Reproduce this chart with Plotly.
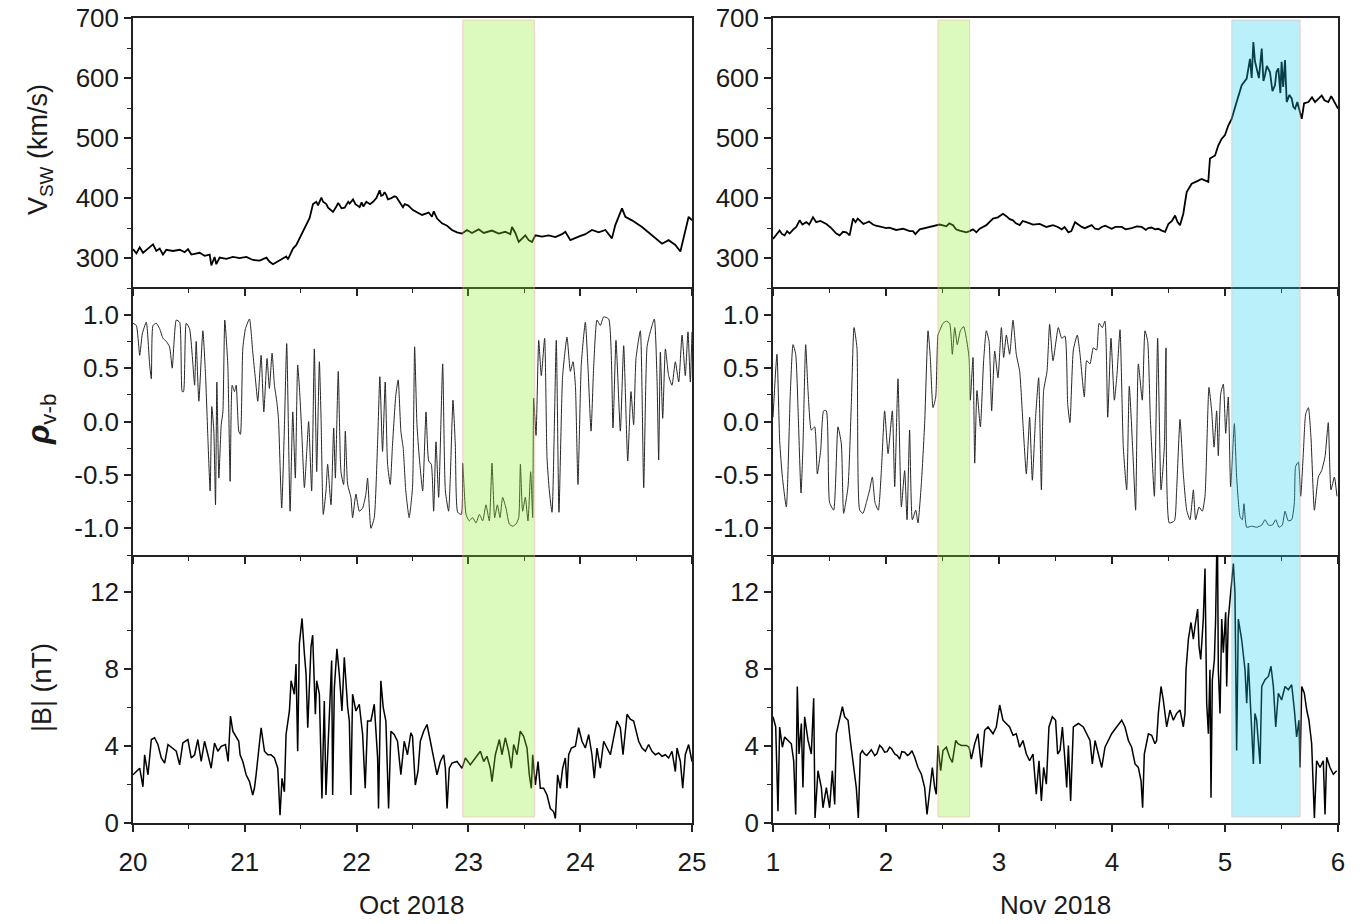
import plotly.graph_objects as go

# ---------------- data ----------------
oct_v = [(20.000,315),(20.030,308),(20.060,318),(20.090,309),(20.134,316),(20.179,323),(20.209,312),(20.239,316),
 (20.268,306),(20.298,314),(20.358,312),(20.417,314),(20.462,310),(20.492,315),(20.522,306),(20.596,309),
 (20.641,304),(20.686,306),(20.701,288),(20.730,302),(20.745,290),(20.775,301),(20.835,299),(20.894,302),
 (20.954,300),(21.014,302),(21.073,297),(21.133,296),(21.193,301),(21.222,294),(21.252,290),(21.312,296),
 (21.371,303),(21.386,298),(21.431,316),(21.461,322),(21.491,333),(21.521,345),(21.550,356),(21.580,367),
 (21.610,390),(21.640,394),(21.655,388),(21.685,401),(21.700,394),(21.729,390),(21.745,384),(21.759,382),
 (21.789,377),(21.819,386),(21.835,392),(21.849,388),(21.865,383),(21.893,384),(21.925,394),(21.938,391),
 (21.968,398),(21.990,390),(22.027,385),(22.045,393),(22.060,386),(22.087,394),(22.120,390),(22.147,394),
 (22.177,400),(22.206,413),(22.220,404),(22.236,405),(22.250,410),(22.266,405),(22.280,398),(22.311,400),
 (22.340,403),(22.355,402),(22.385,394),(22.415,385),(22.430,390),(22.460,388),(22.504,380),(22.585,372),
 (22.645,376),(22.674,369),(22.690,378),(22.720,366),(22.764,358),(22.809,354),(22.853,347),(22.898,343),
 (22.943,341),(22.987,347),(23.032,342),(23.092,348),(23.137,342),(23.211,346),(23.271,341),(23.330,344),
 (23.375,340),(23.390,352),(23.420,342),(23.450,327),(23.509,338),(23.539,330),(23.569,327),(23.599,338),
 (23.658,336),(23.718,338),(23.778,335),(23.837,340),(23.867,344),(23.912,330),(23.986,336),(24.046,340),
 (24.105,347),(24.165,343),(24.225,347),(24.284,333),(24.314,355),(24.344,370),(24.374,383),(24.404,369),
 (24.463,363),(24.553,352),(24.642,338),(24.732,324),(24.791,330),(24.851,322),(24.896,311),(24.925,336),
 (24.970,369),(25.000,363)]

nov_v = [(1.000,332),(1.030,340),(1.059,346),(1.080,340),(1.103,338),(1.125,345),(1.147,341),(1.180,348),
 (1.206,352),(1.236,363),(1.260,356),(1.295,360),(1.320,356),(1.354,368),(1.383,360),(1.420,362),(1.472,357),
 (1.516,350),(1.560,341),(1.590,338),(1.620,344),(1.649,343),(1.678,338),(1.708,366),(1.730,360),(1.750,366),
 (1.767,363),(1.800,357),(1.826,359),(1.850,361),(1.885,356),(1.910,354),(1.940,353),(1.970,352),(2.003,350),
 (2.030,351),(2.060,349),(2.090,347),(2.121,348),(2.150,349),(2.180,347),(2.210,345),(2.239,345),(2.260,340),
 (2.298,348),(2.340,350),(2.386,352),(2.430,354),(2.475,356),(2.534,353),(2.560,358),(2.593,355),(2.620,348),
 (2.652,346),(2.711,343),(2.740,345),(2.770,348),(2.800,343),(2.829,349),(2.888,355),(2.947,366),(2.990,368),
 (3.035,374),(3.065,370),(3.095,365),(3.124,363),(3.150,358),(3.183,355),(3.210,362),(3.242,360),(3.301,356),
 (3.360,357),(3.419,352),(3.478,355),(3.520,352),(3.555,348),(3.580,352),(3.614,343),(3.640,345),(3.673,360),
 (3.700,356),(3.732,352),(3.760,350),(3.791,353),(3.820,355),(3.850,349),(3.880,348),(3.909,352),(3.940,354),
 (3.997,349),(4.030,352),(4.086,352),(4.120,348),(4.174,350),(4.220,353),(4.263,352),(4.300,347),(4.320,350),
 (4.350,351),(4.380,348),(4.410,349),(4.440,346),(4.470,344),(4.499,357),(4.530,362),(4.558,371),(4.580,360),
 (4.602,355),(4.631,374),(4.661,410),(4.705,424),(4.750,428),(4.793,432),(4.852,427),(4.867,466),(4.912,471),
 (4.941,488),(4.971,499),(5.000,505),(5.029,521),(5.059,532),(5.103,560),(5.148,588),(5.192,599),(5.221,632),
 (5.236,600),(5.251,660),(5.265,628),(5.280,616),(5.300,600),(5.325,649),(5.340,595),(5.354,605),(5.370,620),
 (5.398,610),(5.420,578),(5.442,588),(5.455,610),(5.472,616),(5.490,575),(5.501,627),(5.515,585),(5.531,630),
 (5.546,560),(5.570,572),(5.590,566),(5.605,552),(5.620,549),(5.640,560),(5.664,541),(5.679,532),(5.700,558),
 (5.738,560),(5.770,568),(5.797,560),(5.830,566),(5.856,571),(5.880,563),(5.914,560),(5.940,570),(5.973,557),
 (6.000,549)]

oct_rho = [(20.000,0.92),(20.030,0.90),(20.060,0.62),(20.083,0.82),(20.119,0.93),(20.149,0.53),(20.164,0.40),
 (20.179,0.90),(20.208,0.92),(20.238,0.87),(20.268,0.78),(20.298,0.75),(20.327,0.70),(20.351,0.50),(20.387,0.95),
 (20.417,0.93),(20.440,0.28),(20.452,0.28),(20.476,0.92),(20.506,0.87),(20.530,0.62),(20.551,0.34),(20.565,0.75),
 (20.589,0.19),(20.625,0.85),(20.649,0.43),(20.670,-0.16),(20.690,-0.65),(20.705,0.14),(20.723,-0.09),
 (20.738,-0.78),(20.750,0.37),(20.768,-0.53),(20.789,-0.03),(20.804,0.09),(20.821,0.95),(20.848,0.53),
 (20.869,-0.56),(20.887,0.34),(20.908,0.28),(20.923,0.34),(20.946,-0.09),(20.961,-0.12),(20.982,0.68),
 (21.006,0.87),(21.042,0.96),(21.071,0.65),(21.095,0.40),(21.116,0.19),(21.146,0.62),(21.170,0.09),(21.199,0.59),
 (21.220,0.31),(21.244,0.64),(21.265,0.34),(21.286,0.19),(21.301,0.03),(21.330,-0.81),(21.354,-0.06),
 (21.375,0.73),(21.405,-0.84),(21.429,0.09),(21.452,-0.53),(21.473,0.53),(21.494,0.22),(21.512,-0.16),
 (21.533,-0.62),(21.554,-0.28),(21.571,0.00),(21.598,-0.65),(21.622,0.68),(21.643,-0.47),(21.667,0.56),
 (21.682,0.03),(21.702,-0.87),(21.726,-0.65),(21.741,-0.40),(21.771,-0.78),(21.795,-0.06),(21.810,-0.53),
 (21.836,0.47),(21.860,-0.47),(21.884,-0.59),(21.899,-0.09),(21.920,-0.59),(21.949,-0.71),(21.964,-0.90),
 (21.994,-0.68),(22.024,-0.84),(22.054,-0.81),(22.083,-0.68),(22.098,-0.53),(22.128,-1.00),(22.158,-0.90),
 (22.188,-0.19),(22.208,0.42),(22.232,-0.28),(22.256,0.37),(22.277,-0.40),(22.301,-0.59),(22.321,-0.22),
 (22.351,0.25),(22.372,0.39),(22.396,-0.09),(22.417,-0.25),(22.440,-0.65),(22.470,-0.90),(22.500,-0.62),
 (22.519,0.70),(22.540,-0.03),(22.561,-0.34),(22.591,-0.65),(22.621,0.09),(22.645,-0.37),(22.668,-0.40),
 (22.689,-0.84),(22.710,-0.19),(22.734,-0.71),(22.770,0.54),(22.794,-0.65),(22.823,-0.84),(22.838,-0.53),
 (22.862,0.20),(22.883,-0.22),(22.904,-0.85),(22.937,-0.87),(22.949,-0.39),(22.979,-0.87),(23.008,-0.93),
 (23.038,-0.90),(23.068,-0.95),(23.098,-0.87),(23.128,-0.93),(23.157,-0.78),(23.187,-0.93),(23.211,-0.39),
 (23.235,-0.90),(23.259,-0.78),(23.283,-0.90),(23.306,-0.71),(23.336,-0.81),(23.366,-0.96),(23.396,-0.98),
 (23.426,-0.96),(23.450,-0.90),(23.465,-0.40),(23.485,-0.84),(23.509,-0.71),(23.533,-0.93),(23.557,-0.47),
 (23.575,-0.90),(23.584,0.22),(23.605,-0.13),(23.629,0.76),(23.652,0.43),(23.682,0.78),(23.703,-0.34),
 (23.724,-0.65),(23.748,-0.85),(23.786,0.76),(23.810,-0.85),(23.843,0.43),(23.882,0.79),(23.912,0.47),
 (23.936,0.56),(23.957,0.34),(23.980,-0.59),(24.010,0.54),(24.046,0.93),(24.070,0.50),(24.097,-0.09),
 (24.120,0.50),(24.150,0.95),(24.180,0.90),(24.210,0.98),(24.255,0.96),(24.293,-0.06),(24.320,0.76),
 (24.359,-0.09),(24.389,0.71),(24.425,-0.37),(24.454,0.28),(24.478,-0.03),(24.499,0.59),(24.538,0.85),
 (24.568,-0.62),(24.598,0.70),(24.627,0.84),(24.663,0.96),(24.687,0.40),(24.702,-0.36),(24.717,0.65),
 (24.738,0.03),(24.762,0.68),(24.791,0.43),(24.821,0.34),(24.851,0.56),(24.881,0.37),(24.911,0.81),
 (24.940,0.43),(24.964,0.84),(24.985,0.37),(25.000,0.84)]

nov_rho = [(1.000,0.04),(1.035,0.63),(1.059,-0.18),(1.083,-0.52),(1.118,-0.80),(1.153,0.26),(1.177,0.72),
 (1.201,0.63),(1.224,0.04),(1.248,-0.67),(1.265,-0.24),(1.289,0.72),(1.310,0.29),(1.339,-0.08),(1.369,-0.05),
 (1.392,-0.49),(1.422,-0.27),(1.448,0.10),(1.472,0.10),(1.501,-0.76),(1.537,-0.83),(1.575,-0.05),(1.605,-0.21),
 (1.625,-0.86),(1.664,-0.61),(1.693,0.16),(1.717,0.88),(1.743,0.69),(1.767,-0.83),(1.796,-0.86),(1.826,-0.76),
 (1.855,-0.64),(1.879,-0.52),(1.903,-0.76),(1.932,-0.83),(1.959,-0.46),(1.988,0.10),(2.018,-0.30),(2.056,0.10),
 (2.077,-0.61),(2.106,0.40),(2.136,-0.80),(2.165,-0.46),(2.186,-0.92),(2.209,-0.08),(2.233,-0.92),(2.263,-0.83),
 (2.283,-0.95),(2.313,-0.58),(2.342,-0.02),(2.372,0.85),(2.392,0.60),(2.416,0.13),(2.440,0.23),(2.460,0.81),
 (2.475,0.85),(2.504,0.92),(2.534,0.94),(2.563,0.92),(2.587,0.63),(2.608,0.88),(2.631,0.72),(2.658,0.85),
 (2.687,0.89),(2.711,0.78),(2.735,0.60),(2.746,0.20),(2.770,0.60),(2.785,-0.39),(2.805,0.29),(2.835,-0.05),
 (2.864,0.57),(2.888,0.85),(2.912,0.75),(2.935,0.10),(2.962,0.66),(2.991,0.41),(3.021,0.88),(3.041,0.60),
 (3.065,0.81),(3.094,0.63),(3.124,0.95),(3.153,0.63),(3.183,0.47),(3.212,-0.02),(3.242,-0.49),(3.271,0.04),
 (3.295,-0.55),(3.322,0.01),(3.351,0.41),(3.375,-0.64),(3.395,0.29),(3.425,0.47),(3.448,0.91),(3.478,0.57),
 (3.525,0.88),(3.555,0.78),(3.584,0.80),(3.608,0.16),(3.628,-0.01),(3.658,0.67),(3.693,0.81),(3.717,0.63),
 (3.755,0.23),(3.776,0.57),(3.805,0.54),(3.835,0.69),(3.864,0.67),(3.885,0.92),(3.914,0.88),(3.938,0.94),
 (3.962,0.04),(3.991,0.78),(4.021,0.20),(4.044,0.44),(4.071,0.86),(4.100,-0.24),(4.130,-0.64),(4.153,0.33),
 (4.189,-0.39),(4.209,-0.83),(4.233,0.54),(4.268,0.20),(4.292,0.85),(4.316,0.75),(4.339,0.04),(4.375,-0.70),
 (4.404,0.78),(4.434,-0.64),(4.463,-0.24),(4.478,0.69),(4.507,-0.95),(4.552,-0.93),(4.572,-0.64),(4.602,0.02),
 (4.631,-0.49),(4.661,-0.83),(4.690,-0.92),(4.720,-0.64),(4.740,-0.92),(4.770,-0.80),(4.799,-0.84),(4.823,-0.70),
 (4.858,0.32),(4.882,0.10),(4.903,-0.24),(4.926,0.10),(4.941,-0.32),(4.962,0.26),(4.985,0.35),(5.006,-0.11),
 (5.029,0.23),(5.050,-0.61),(5.083,-0.02),(5.103,-0.52),(5.133,-0.89),(5.153,-0.92),(5.168,-0.77),(5.192,-0.99),
 (5.236,-0.98),(5.280,-0.99),(5.325,-0.97),(5.354,-0.92),(5.384,-0.97),(5.419,-0.97),(5.449,-0.92),(5.478,-0.99),
 (5.507,-0.97),(5.531,-0.84),(5.560,-0.93),(5.590,-0.92),(5.614,-0.76),(5.625,-0.42),(5.649,-0.38),(5.670,-0.70),
 (5.693,-0.30),(5.714,0.07),(5.738,0.13),(5.761,-0.15),(5.791,-0.83),(5.826,-0.52),(5.855,-0.46),(5.885,-0.33),
 (5.914,-0.01),(5.938,-0.64),(5.968,-0.52),(5.991,-0.70)]

oct_b = [(20.000,2.50),(20.030,2.67),(20.060,2.84),(20.089,1.88),(20.104,3.54),(20.134,2.50),(20.164,4.33),
 (20.193,4.42),(20.223,4.07),(20.253,3.37),(20.283,3.11),(20.313,4.07),(20.357,3.89),(20.387,3.72),(20.417,3.02),
 (20.446,4.15),(20.491,4.33),(20.521,3.37),(20.551,3.54),(20.580,4.33),(20.610,3.19),(20.640,4.24),(20.670,3.54),
 (20.699,2.84),(20.729,4.15),(20.759,3.72),(20.789,3.98),(20.827,4.07),(20.851,3.19),(20.872,5.55),(20.893,4.76),
 (20.923,4.50),(20.946,4.24),(20.958,3.54),(20.982,3.19),(21.012,2.50),(21.042,2.15),(21.071,1.45),(21.086,1.80),
 (21.101,2.50),(21.125,3.72),(21.146,4.94),(21.176,3.72),(21.205,3.54),(21.235,3.54),(21.265,3.37),(21.295,2.84),
 (21.315,0.40),(21.333,2.32),(21.354,1.62),(21.369,4.59),(21.399,5.81),(21.414,7.38),(21.443,6.68),(21.458,8.25),
 (21.473,3.72),(21.488,9.30),(21.512,10.61),(21.533,8.78),(21.548,7.73),(21.563,4.94),(21.592,9.13),
 (21.607,9.74),(21.631,5.64),(21.643,7.38),(21.667,6.68),(21.690,1.27),(21.711,6.33),(21.726,1.45),(21.756,5.99),
 (21.777,8.43),(21.786,1.45),(21.801,7.00),(21.824,9.04),(21.845,7.73),(21.869,5.81),(21.890,8.60),(21.920,5.99),
 (21.935,5.29),(21.949,1.45),(21.964,6.68),(21.994,5.81),(22.024,6.16),(22.054,4.59),(22.077,1.80),(22.098,5.29),
 (22.128,5.29),(22.158,6.16),(22.188,3.37),(22.196,0.75),(22.217,7.38),(22.238,5.99),(22.262,5.29),(22.286,0.75),
 (22.307,4.76),(22.336,4.59),(22.366,4.24),(22.396,2.50),(22.426,4.24),(22.455,3.54),(22.485,4.68),(22.500,4.50),
 (22.525,1.97),(22.549,2.67),(22.570,4.24),(22.600,4.76),(22.630,5.11),(22.660,4.24),(22.689,3.37),(22.719,2.50),
 (22.749,3.19),(22.779,3.54),(22.794,2.84),(22.809,0.75),(22.829,2.84),(22.853,3.11),(22.898,3.19),(22.943,2.84),
 (22.973,3.37),(23.017,3.02),(23.062,3.37),(23.107,3.72),(23.137,3.19),(23.166,3.46),(23.196,2.84),(23.211,2.15),
 (23.241,3.54),(23.277,4.33),(23.300,3.54),(23.330,4.42),(23.360,3.72),(23.384,2.84),(23.405,4.07),(23.435,3.54),
 (23.464,4.76),(23.494,4.50),(23.524,3.89),(23.545,2.50),(23.563,1.80),(23.575,3.54),(23.599,1.97),(23.623,3.19),
 (23.643,1.80),(23.673,1.80),(23.703,1.45),(23.733,0.75),(23.763,0.58),(23.778,0.23),(23.798,2.50),(23.822,1.80),
 (23.843,2.84),(23.867,3.37),(23.882,1.80),(23.897,3.54),(23.921,3.89),(23.957,3.98),(23.986,4.94),(24.016,4.24),
 (24.046,3.89),(24.076,4.59),(24.105,3.54),(24.126,2.32),(24.150,3.89),(24.180,2.84),(24.210,4.24),(24.240,3.89),
 (24.270,3.54),(24.299,4.42),(24.329,5.29),(24.359,4.94),(24.383,3.54),(24.419,5.64),(24.448,5.38),(24.478,5.29),
 (24.523,4.24),(24.553,3.89),(24.583,3.72),(24.612,4.07),(24.642,3.72),(24.672,3.54),(24.702,3.63),(24.732,3.46),
 (24.762,3.54),(24.791,3.37),(24.821,3.72),(24.851,2.67),(24.866,3.89),(24.896,3.19),(24.917,1.80),(24.940,3.54),
 (24.970,4.07),(25.000,3.19)]

nov_b = [(1.000,5.51),(1.024,4.98),(1.044,0.61),(1.059,4.98),(1.083,3.93),(1.103,4.46),(1.133,4.28),(1.162,4.11),
 (1.183,3.23),(1.201,0.44),(1.215,7.08),(1.230,3.58),(1.251,5.16),(1.265,1.84),(1.280,5.51),(1.310,4.28),
 (1.339,3.58),(1.360,6.47),(1.372,0.26),(1.398,2.71),(1.428,1.84),(1.442,0.79),(1.472,1.84),(1.501,0.79),
 (1.525,2.71),(1.546,0.96),(1.560,4.63),(1.590,5.33),(1.614,6.03),(1.634,5.51),(1.664,5.33),(1.684,4.28),
 (1.708,3.06),(1.737,1.84),(1.755,0.26),(1.773,3.58),(1.790,3.75),(1.811,3.58),(1.830,3.50),(1.855,3.67),
 (1.870,3.80),(1.900,3.50),(1.920,3.60),(1.944,4.02),(1.965,3.90),(1.988,3.67),(2.010,3.70),(2.032,3.93),
 (2.050,3.85),(2.077,3.58),(2.100,3.50),(2.121,3.32),(2.140,3.70),(2.165,3.67),(2.190,3.50),(2.209,3.58),
 (2.230,3.75),(2.254,3.41),(2.283,2.88),(2.313,2.53),(2.342,1.84),(2.363,0.44),(2.386,1.49),(2.410,2.88),
 (2.431,1.84),(2.445,1.49),(2.460,4.02),(2.484,2.71),(2.504,3.76),(2.534,3.93),(2.563,3.41),(2.587,3.15),
 (2.617,4.28),(2.637,4.11),(2.667,4.02),(2.711,4.02),(2.735,3.93),(2.755,3.32),(2.785,4.11),(2.814,4.63),
 (2.844,2.88),(2.873,4.81),(2.903,4.98),(2.947,4.63),(2.976,4.98),(3.006,6.12),(3.035,5.33),(3.065,5.16),
 (3.094,4.98),(3.124,4.55),(3.153,4.63),(3.183,3.93),(3.212,4.28),(3.242,3.58),(3.271,3.23),(3.301,3.58),
 (3.330,1.49),(3.354,3.23),(3.375,1.14),(3.395,2.88),(3.419,2.01),(3.442,4.98),(3.472,5.51),(3.501,5.33),
 (3.519,3.58),(3.540,3.76),(3.561,4.98),(3.584,3.23),(3.599,1.84),(3.614,4.02),(3.634,1.14),(3.658,4.98),
 (3.702,5.16),(3.746,4.98),(3.776,4.63),(3.805,4.28),(3.826,3.06),(3.850,4.28),(3.879,3.58),(3.909,2.88),
 (3.938,3.93),(3.968,4.28),(3.997,4.63),(4.041,4.98),(4.086,5.33),(4.115,4.98),(4.145,4.28),(4.174,3.93),
 (4.204,3.06),(4.233,2.88),(4.257,2.19),(4.271,0.79),(4.286,3.58),(4.322,4.63),(4.351,4.55),(4.380,4.11),
 (4.395,4.28),(4.410,5.68),(4.434,7.08),(4.454,6.38),(4.484,4.98),(4.513,5.86),(4.543,5.33),(4.572,5.68),
 (4.602,5.86),(4.631,4.98),(4.646,5.68),(4.655,7.95),(4.676,9.53),(4.699,10.40),(4.720,9.53),(4.735,10.23),
 (4.758,11.10),(4.770,9.18),(4.785,8.48),(4.808,10.58),(4.823,13.20),(4.838,6.21),(4.853,4.63),(4.867,7.95),
 (4.876,1.31),(4.888,7.43),(4.906,8.48),(4.917,10.58),(4.932,15.80),(4.941,7.95),(4.956,5.68),(4.971,10.58),
 (4.985,8.83),(5.006,10.93),(5.015,7.08),(5.029,10.58),(5.044,11.45),(5.059,12.67),(5.074,13.46),(5.088,11.97),
 (5.103,3.76),(5.118,10.58),(5.147,9.53),(5.177,7.95),(5.192,6.21),(5.207,8.30),(5.230,5.86),(5.251,3.06),
 (5.265,5.68),(5.280,5.33),(5.310,3.06),(5.325,7.08),(5.354,7.43),(5.384,7.60),(5.407,8.13),(5.428,7.08),
 (5.449,4.98),(5.472,6.73),(5.501,6.38),(5.531,7.08),(5.560,6.91),(5.590,7.17),(5.614,5.86),(5.634,4.46),
 (5.655,5.33),(5.664,2.88),(5.679,7.08),(5.702,6.73),(5.723,5.86),(5.743,5.33),(5.767,4.11),(5.782,1.84),
 (5.791,0.26),(5.811,3.23),(5.841,2.88),(5.870,3.23),(5.885,0.44),(5.900,3.41),(5.929,2.88),(5.959,2.53),
 (5.988,2.71)]

oct_green = (22.95, 23.59)
nov_green = (2.46, 2.74)
nov_cyan = (5.06, 5.665)

# ---------------- layout ----------------
W, H = 1366, 924
FONT = "Liberation Sans, Arial, sans-serif"
TXT = "#1a1a1a"
col_dom = [[133 / W, 692 / W], [773 / W, 1338 / W]]
row_dom = [[(H - 287) / H, (H - 18) / H], [(H - 555) / H, (H - 287) / H], [(H - 823) / H, (H - 555) / H]]

panels = [
    (oct_v, 0, 0, [20, 25]), (nov_v, 0, 1, [1, 6]),
    (oct_rho, 1, 0, [20, 25]), (nov_rho, 1, 1, [1, 6]),
    (oct_b, 2, 0, [20, 25]), (nov_b, 2, 1, [1, 6]),
]
yspecs = {
    0: dict(range=[252, 700], tickvals=[300, 400, 500, 600, 700], ticktext=["300", "400", "500", "600", "700"],
            minor=50),
    1: dict(range=[-1.25, 1.26], tickvals=[-1, -0.5, 0, 0.5, 1], ticktext=["-1.0", "-0.5", "0.0", "0.5", "1.0"],
            minor=0.25),
    2: dict(range=[0, 13.9], tickvals=[0, 4, 8, 12], ticktext=["0", "4", "8", "12"], minor=2),
}
line_style = {0: dict(color="black", width=1.8),
              1: dict(color="#262626", width=1.0, shape="spline", smoothing=0.5),
              2: dict(color="black", width=1.5)}

fig = go.Figure()
layout = dict(width=W, height=H, margin=dict(l=0, r=0, t=0, b=0, autoexpand=False), autosize=False,
              paper_bgcolor="white", plot_bgcolor="white", showlegend=False,
              font=dict(family=FONT, size=26, color=TXT))

AX = dict(showline=True, linecolor="#222", linewidth=1.5, showgrid=False, zeroline=False, automargin=False,
          ticks="outside", ticklen=7, tickwidth=1.5, tickcolor="#222",
          tickfont=dict(family=FONT, size=26, color=TXT))

for i, (series, r, c, xr) in enumerate(panels, start=1):
    series = sorted(series)
    xs = [p[0] for p in series]
    ys = [p[1] for p in series]
    suffix = "" if i == 1 else str(i)
    fig.add_trace(go.Scatter(x=xs, y=ys, mode="lines", xaxis="x" + suffix, yaxis="y" + suffix,
                             line=line_style[r], hoverinfo="skip"))
    ys_ = yspecs[r]
    layout["xaxis" + suffix] = dict(AX, domain=col_dom[c], anchor="y" + suffix, range=xr,
                                    mirror=(r == 0),
                                    tickvals=list(range(xr[0], xr[1] + 1)),
                                    ticktext=[str(v) for v in range(xr[0], xr[1] + 1)],
                                    showticklabels=(r == 2), ticklabelstandoff=8,
                                    minor=dict(dtick=0.5, tick0=0, ticks="outside", ticklen=4,
                                               tickwidth=1.2, tickcolor="#222"))
    layout["yaxis" + suffix] = dict(AX, domain=row_dom[r], anchor="x" + suffix, range=ys_["range"],
                                    mirror=True,
                                    tickvals=ys_["tickvals"], ticktext=ys_["ticktext"],
                                    minor=dict(dtick=ys_["minor"], tick0=0, ticks="outside", ticklen=4,
                                               tickwidth=1.2, tickcolor="#222"))

y_lo, y_hi = (H - 817) / H, (H - 20) / H
shapes = []
for xref, (a, b), fill in [("x", oct_green, "rgba(140,240,40,0.30)"),
                           ("x2", nov_green, "rgba(140,240,40,0.30)"),
                           ("x2", nov_cyan, "rgba(25,205,240,0.30)")]:
    shapes.append(dict(type="rect", xref=xref, yref="paper", x0=a, x1=b, y0=y_lo, y1=y_hi,
                       fillcolor=fill, line=dict(color="rgba(255,150,160,0.45)", width=1), layer="above"))
layout["shapes"] = shapes

ann = []
def title(text, x, y, angle=-90, size=26):
    ann.append(dict(text=text, x=x / W, y=1 - y / H, xref="paper", yref="paper", showarrow=False,
                    textangle=angle, font=dict(family=FONT, size=size, color=TXT),
                    xanchor="center", yanchor="middle"))

title("V<sub>SW</sub> (km/s)", 40, 150, size=27)
title("<b><i>ρ</i></b><sub>v-b</sub>", 40, 420, size=32)
title("|B| (nT)", 42, 688, size=27)
title("Oct 2018", 412, 905, angle=0)
title("Nov 2018", 1055, 905, angle=0)
layout["annotations"] = ann

fig.update_layout(**layout)
fig.write_html("out.html")
